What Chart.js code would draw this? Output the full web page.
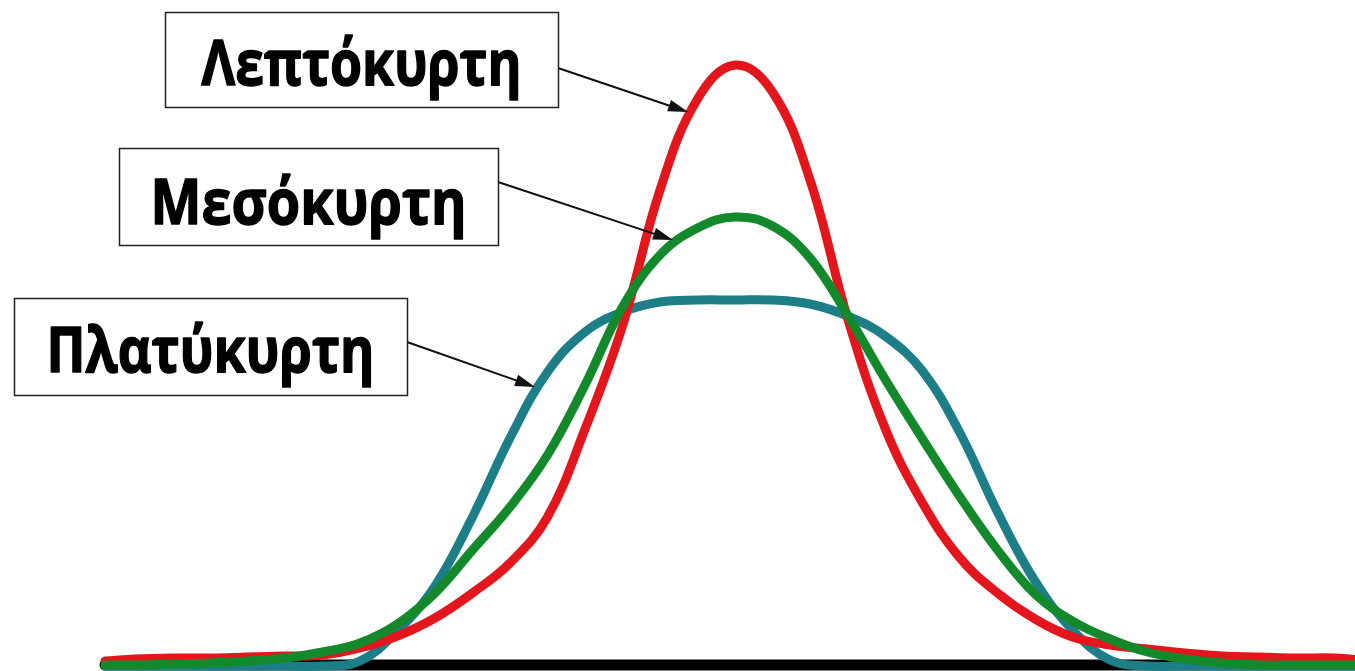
<!DOCTYPE html>
<html lang="el">
<head>
<meta charset="utf-8">
<script src="https://cdn.jsdelivr.net/npm/chart.js@4.4.1/dist/chart.umd.min.js"></script>
<style>
  html, body { margin: 0; padding: 0; background: #fff; overflow: hidden; }
  canvas { display: block; }
</style>
</head>
<body>
<canvas id="grafico" width="1355" height="671"></canvas>
<script>
// x positions (standard units) shared by the three curves
const xs = [-4.2, -4, -3.75, -3.5, -3.25, -3, -2.75, -2.5, -2.25, -2, -1.75, -1.5, -1.25, -1, -0.75, -0.5, -0.25, 0,
  0.25, 0.5, 0.75, 1, 1.25, 1.5, 1.75, 2, 2.25, 2.5, 2.75, 3, 3.25, 3.5, 3.75, 4, 4.25];

// density values
const lepto = [0.004, 0.006, 0.007, 0.007, 0.008, 0.009, 0.010, 0.017, 0.029, 0.047,
  0.072, 0.102, 0.148, 0.236, 0.339, 0.475, 0.566, 0.600,
  0.573, 0.485, 0.347, 0.237, 0.162, 0.107, 0.072, 0.046, 0.028, 0.020, 0.016, 0.012,
  0.009, 0.008, 0.007, 0.007, 0.004];
const meso = [0, 0, 0.001, 0.002, 0.004, 0.007, 0.013, 0.022, 0.041, 0.072,
  0.115, 0.158, 0.210, 0.280, 0.358, 0.410, 0.437, 0.448,
  0.439, 0.407, 0.350, 0.286, 0.226, 0.168, 0.115, 0.071, 0.044, 0.026, 0.013, 0.006,
  0.002, 0, 0, 0, 0];
const platy = [-0.001, -0.001, -0.001, -0.001, -0.001, -0.001, -0.001,
  0.004, 0.034, 0.079, 0.148, 0.227, 0.293, 0.333, 0.353, 0.363, 0.365, 0.365,
  0.365, 0.361, 0.349, 0.329, 0.294, 0.232, 0.153, 0.084, 0.035, 0.005,
  -0.001, -0.001, -0.001, -0.001, -0.001, -0.001, -0.001];

const etiquetas = ["Λεπτόκυρτη", "Μεσόκυρτη", "Πλατύκυρτη"];

function puntos(ys) {
  return xs.map((x, i) => ({ x: x, y: ys[i] }));
}

// label boxes (pixels) and where each arrow lands on its curve (data units)
const cajas = [
  { texto: etiquetas[0], l: 165, t: 12, r: 558, b: 107, ancho: 320, base: 85, desde: 68, punta: { x: -0.313, y: 0.553 } },
  { texto: etiquetas[1], l: 119, t: 148, r: 498, b: 245, ancho: 316, base: 224, desde: 182, punta: { x: -0.413, y: 0.425 } },
  { texto: etiquetas[2], l: 14, t: 298, r: 407, b: 395, ancho: 328, base: 372, desde: 342, punta: { x: -1.333, y: 0.278 } }
];

const anotaciones = {
  id: 'anotaciones',
  afterDatasetsDraw(chart) {
    const ctx = chart.ctx;
    const sx = chart.scales.x, sy = chart.scales.y;
    ctx.save();
    cajas.forEach(c => {
      // arrow
      const x0 = c.r, y0 = c.desde;
      const x1 = sx.getPixelForValue(c.punta.x), y1 = sy.getPixelForValue(c.punta.y);
      const ang = Math.atan2(y1 - y0, x1 - x0);
      ctx.strokeStyle = '#111';
      ctx.lineWidth = 2;
      ctx.beginPath();
      ctx.moveTo(x0, y0);
      ctx.lineTo(x1 - 14 * Math.cos(ang), y1 - 14 * Math.sin(ang));
      ctx.stroke();
      ctx.fillStyle = '#111';
      ctx.beginPath();
      ctx.moveTo(x1, y1);
      ctx.lineTo(x1 - 20 * Math.cos(ang) + 6 * Math.sin(ang), y1 - 20 * Math.sin(ang) - 6 * Math.cos(ang));
      ctx.lineTo(x1 - 20 * Math.cos(ang) - 6 * Math.sin(ang), y1 - 20 * Math.sin(ang) + 6 * Math.cos(ang));
      ctx.closePath();
      ctx.fill();

      // box
      ctx.fillStyle = '#fff';
      ctx.fillRect(c.l, c.t, c.r - c.l, c.b - c.t);
      ctx.strokeStyle = '#222';
      ctx.lineWidth = 1.5;
      ctx.strokeRect(c.l + 0.5, c.t + 0.5, c.r - c.l, c.b - c.t);

      // text, fitted to the width of the original lettering
      ctx.font = 'bold 60px "Open Sans", "Noto Sans", sans-serif';
      ctx.textAlign = 'center';
      ctx.textBaseline = 'alphabetic';
      const w = ctx.measureText(c.texto).width;
      ctx.save();
      ctx.translate((c.l + c.r) / 2, c.base);
      ctx.scale(c.ancho / w, 1.06);
      ctx.fillStyle = '#000';
      ctx.strokeStyle = '#000';
      ctx.lineWidth = 1.4;
      ctx.lineJoin = 'round';
      ctx.fillText(c.texto, 0, 0);
      ctx.strokeText(c.texto, 0, 0);
      ctx.restore();
    });
    ctx.restore();
  }
};

const ctx = document.getElementById("grafico").getContext("2d");
new Chart(ctx, {
  type: 'line',
  data: {
    datasets: [
      { label: etiquetas[1], data: puntos(meso), borderColor: '#14892c', borderWidth: 9 },
      { label: etiquetas[0], data: puntos(lepto), borderColor: '#e3161d', borderWidth: 9 },
      { label: etiquetas[2], data: puntos(platy), borderColor: '#1d7e87', borderWidth: 9 },
      { label: 'άξονας', data: [{ x: xs[0], y: 0 }, { x: xs[xs.length - 1], y: 0 }], borderColor: '#000', borderWidth: 11, tension: 0 }
    ]
  },
  options: {
    responsive: false,
    animation: false,
    devicePixelRatio: 1,
    layout: { padding: 0 },
    elements: {
      point: { radius: 0 },
      line: { tension: 0.4, borderCapStyle: 'round' }
    },
    plugins: { legend: { display: false }, tooltip: { enabled: false } },
    scales: {
      x: { type: 'linear', min: -4.9, max: 4.1333, display: false },
      y: { min: -0.006, max: 0.665, display: false }
    }
  },
  plugins: [anotaciones]
});
</script>
</body>
</html>
